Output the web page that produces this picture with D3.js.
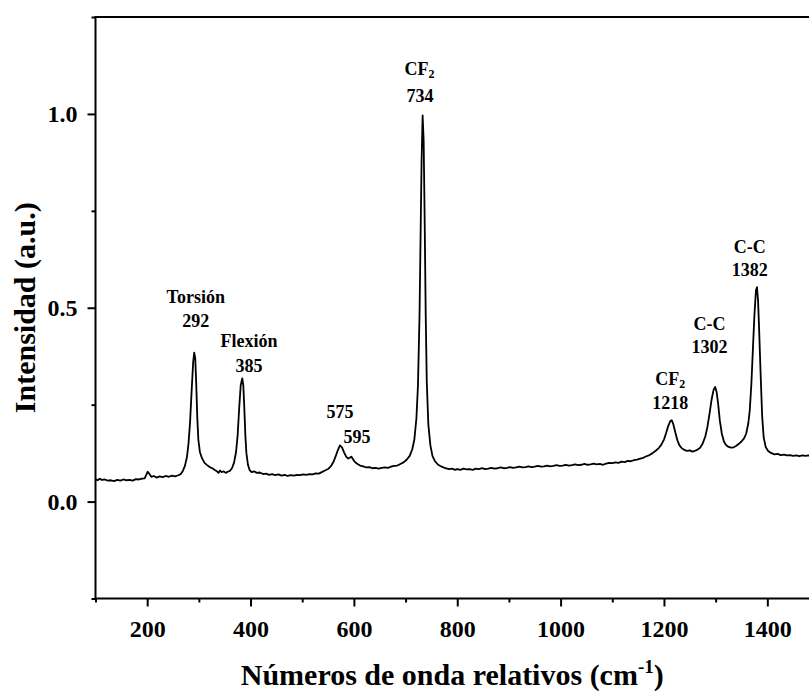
<!DOCTYPE html>
<html>
<head>
<meta charset="utf-8">
<script src="https://cdn.jsdelivr.net/npm/d3@7"></script>
<style>
  body { margin: 0; background: #fff; }
  svg { display: block; font-family: "Liberation Serif", "Times New Roman", serif; font-weight: bold; }
  .axis path, .axis line { stroke: #000; stroke-width: 2; }
  .axis text { fill: #000; font-size: 24px; font-family: "Liberation Serif", "Times New Roman", serif; font-weight: bold; }
</style>
</head>
<body>
<svg width="809" height="693"></svg>
<script>
// Raman spectrum, [wavenumber (cm-1), intensity (a.u.)]
const spectrum = [
  [100,0.058],[104,0.055],[108,0.059],[112,0.056],[118,0.057],[124,0.054],[130,0.055],[136,0.053],
  [142,0.056],[148,0.054],[154,0.057],[160,0.055],[166,0.056],[172,0.054],[178,0.058],[184,0.057],
  [190,0.059],[195,0.060],[198,0.068],[201,0.077],[204,0.072],[208,0.064],[213,0.066],[218,0.062],
  [224,0.065],[230,0.063],[236,0.066],[242,0.064],[248,0.067],[254,0.065],[260,0.068],[265,0.071],
  [269,0.079],[273,0.092],[277,0.115],[280,0.150],[283,0.205],[286,0.285],[289,0.360],[291,0.384],
  [293,0.370],[295,0.300],[297,0.215],[299,0.160],[302,0.128],[306,0.112],[311,0.100],[316,0.094],
  [321,0.089],[326,0.086],[330,0.082],[334,0.079],[338,0.074],[341,0.080],[344,0.076],[348,0.078],
  [352,0.074],[356,0.077],[360,0.079],[364,0.086],[368,0.100],[372,0.128],[375,0.170],[378,0.240],
  [381,0.300],[384,0.318],[386,0.300],[388,0.240],[390,0.170],[392,0.125],[395,0.095],[398,0.082],
  [402,0.076],[407,0.078],[412,0.074],[418,0.075],[424,0.071],[430,0.072],[436,0.069],[442,0.071],
  [448,0.068],[454,0.070],[460,0.067],[466,0.069],[472,0.066],[478,0.068],[484,0.067],[490,0.069],
  [496,0.068],[502,0.070],[508,0.069],[514,0.071],[520,0.070],[526,0.073],[532,0.072],[538,0.076],
  [544,0.080],[550,0.084],[556,0.092],[561,0.104],[565,0.118],[569,0.133],[573,0.145],[577,0.140],
  [581,0.127],[585,0.116],[589,0.111],[592,0.113],[595,0.116],[598,0.110],[602,0.102],[607,0.097],
  [612,0.093],[618,0.091],[624,0.088],[630,0.089],[636,0.086],[642,0.087],[648,0.085],[654,0.087],
  [660,0.088],[666,0.087],[672,0.090],[678,0.092],[684,0.093],[690,0.097],[696,0.101],[702,0.108],
  [708,0.118],[713,0.135],[717,0.160],[721,0.215],[724,0.300],[727,0.480],[729,0.680],[731,0.880],
  [733,0.996],[735,0.930],[737,0.720],[739,0.480],[741,0.310],[744,0.200],[748,0.145],[752,0.118],
  [757,0.104],[763,0.095],[770,0.090],[777,0.086],[784,0.084],[790,0.085],[796,0.082],[800,0.084],
  [806,0.082],[812,0.085],[818,0.083],[824,0.084],[830,0.082],[836,0.085],[842,0.084],[848,0.086],
  [854,0.084],[860,0.085],[866,0.087],[872,0.085],[878,0.086],[884,0.088],[890,0.086],[896,0.087],
  [902,0.089],[908,0.087],[914,0.088],[920,0.090],[926,0.088],[932,0.089],[938,0.091],[944,0.089],
  [950,0.090],[956,0.092],[962,0.090],[968,0.091],[974,0.093],[980,0.091],[986,0.092],[992,0.094],
  [998,0.092],[1004,0.093],[1010,0.095],[1016,0.093],[1022,0.094],[1028,0.096],[1034,0.094],[1040,0.095],
  [1046,0.097],[1052,0.095],[1058,0.096],[1064,0.098],[1070,0.096],[1076,0.097],[1082,0.095],[1088,0.098],
  [1094,0.100],[1100,0.099],[1106,0.101],[1112,0.100],[1118,0.103],[1124,0.102],[1130,0.105],[1136,0.104],
  [1142,0.107],[1148,0.108],[1154,0.111],[1160,0.113],[1166,0.117],[1172,0.120],[1178,0.125],[1184,0.131],
  [1190,0.138],[1195,0.147],[1200,0.160],[1204,0.176],[1208,0.194],[1212,0.207],[1215,0.210],[1218,0.200],
  [1222,0.178],[1226,0.158],[1230,0.145],[1235,0.137],[1240,0.133],[1245,0.131],[1250,0.132],[1255,0.129],
  [1260,0.131],[1265,0.134],[1270,0.139],[1275,0.150],[1280,0.168],[1284,0.192],[1288,0.225],[1292,0.262],
  [1296,0.288],[1299,0.296],[1302,0.282],[1305,0.250],[1308,0.210],[1312,0.175],[1316,0.155],[1320,0.146],
  [1325,0.141],[1330,0.139],[1335,0.140],[1340,0.144],[1345,0.149],[1350,0.155],[1355,0.163],[1359,0.175],
  [1363,0.200],[1366,0.235],[1369,0.300],[1372,0.390],[1375,0.480],[1378,0.545],[1380,0.553],[1382,0.520],
  [1384,0.450],[1387,0.330],[1390,0.220],[1393,0.165],[1397,0.140],[1402,0.130],[1408,0.125],[1414,0.122],
  [1420,0.123],[1426,0.120],[1432,0.121],[1438,0.119],[1444,0.120],[1450,0.118],[1456,0.119],[1462,0.117],
  [1468,0.119],[1474,0.118],[1480,0.119],[1486,0.117],[1492,0.118]
];

// tick values
const xMajorTicks = [200, 400, 600, 800, 1000, 1200, 1400];
const xMinorTicks = [100, 300, 500, 700, 900, 1100, 1300, 1500];
const yMajorTicks = [0.0, 0.5, 1.0];
const yMinorTicks = [-0.25, 0.25, 0.75, 1.25];

// peak labels, anchored in data units (x = cm-1, y = intensity of the text baseline)
const peakLabels = [
  { x: 294, y: 0.512, text: "Torsión" },
  { x: 294, y: 0.450, text: "292" },
  { x: 397, y: 0.399, text: "Flexión" },
  { x: 397, y: 0.334, text: "385" },
  { x: 573, y: 0.216, text: "575" },
  { x: 606, y: 0.151, text: "595" },
  { x: 727, y: 1.100, text: "CF", sub: "2" },
  { x: 728, y: 1.031, text: "734" },
  { x: 1212, y: 0.300, text: "CF", sub: "2" },
  { x: 1212, y: 0.239, text: "1218" },
  { x: 1288, y: 0.443, text: "C-C" },
  { x: 1288, y: 0.383, text: "1302" },
  { x: 1366, y: 0.641, text: "C-C" },
  { x: 1366, y: 0.582, text: "1382" }
];

const svg = d3.select("svg");
svg.append("rect").attr("width", 809).attr("height", 693).attr("fill", "#fff");

// plot runs past the right edge of the picture, like the original crop
const x = d3.scaleLinear().domain([100, 1500]).range([95.5, 819]);
const y = d3.scaleLinear().domain([-0.25, 1.25]).range([598.5, 17]);

// frame
svg.append("rect")
  .attr("x", x.range()[0]).attr("y", y.range()[1])
  .attr("width", x.range()[1] - x.range()[0])
  .attr("height", y.range()[0] - y.range()[1])
  .attr("fill", "none").attr("stroke", "#000").attr("stroke-width", 2);

// axes - major ticks with labels
svg.append("g")
  .attr("class", "axis")
  .attr("transform", "translate(0," + y.range()[0] + ")")
  .call(d3.axisBottom(x).tickValues(xMajorTicks).tickSize(8).tickPadding(13).tickFormat(d3.format("d")));

svg.append("g")
  .attr("class", "axis")
  .attr("transform", "translate(" + x.range()[0] + ",0)")
  .call(d3.axisLeft(y).tickValues(yMajorTicks).tickSize(8).tickPadding(10).tickFormat(d3.format(".1f")));

// minor ticks
svg.append("g")
  .attr("class", "axis")
  .attr("transform", "translate(0," + y.range()[0] + ")")
  .call(d3.axisBottom(x).tickValues(xMinorTicks).tickSize(4).tickFormat(""));

svg.append("g")
  .attr("class", "axis")
  .attr("transform", "translate(" + x.range()[0] + ",0)")
  .call(d3.axisLeft(y).tickValues(yMinorTicks).tickSize(4).tickFormat(""));

svg.selectAll(".axis .domain").remove();

// spectrum
const line = d3.line()
  .x(d => x(d[0]))
  .y(d => y(d[1]));

svg.append("path")
  .datum(spectrum)
  .attr("fill", "none")
  .attr("stroke", "#000")
  .attr("stroke-width", 1.8)
  .attr("stroke-linejoin", "round")
  .attr("d", line);

// peak labels
const labels = svg.selectAll(".peak-label")
  .data(peakLabels)
  .enter()
  .append("text")
  .attr("class", "peak-label")
  .attr("x", d => x(d.x))
  .attr("y", d => y(d.y))
  .attr("text-anchor", "middle")
  .attr("font-size", 18)
  .text(d => d.text);

labels.filter(d => d.sub)
  .append("tspan")
  .attr("font-size", 12)
  .attr("dy", 3)
  .text(d => d.sub);

// axis titles
svg.append("text")
  .attr("x", (x.range()[0] + 819) / 2 - 5)
  .attr("y", 685)
  .attr("text-anchor", "middle")
  .attr("font-size", 30)
  .html("Números de onda relativos (cm<tspan font-size='19' dy='-12'>-1</tspan><tspan dy='12'>)</tspan>");

svg.append("text")
  .attr("transform", "translate(35," + ((y.range()[0] + y.range()[1]) / 2) + ") rotate(-90)")
  .attr("text-anchor", "middle")
  .attr("font-size", 30)
  .text("Intensidad (a.u.)");
</script>
</body>
</html>
